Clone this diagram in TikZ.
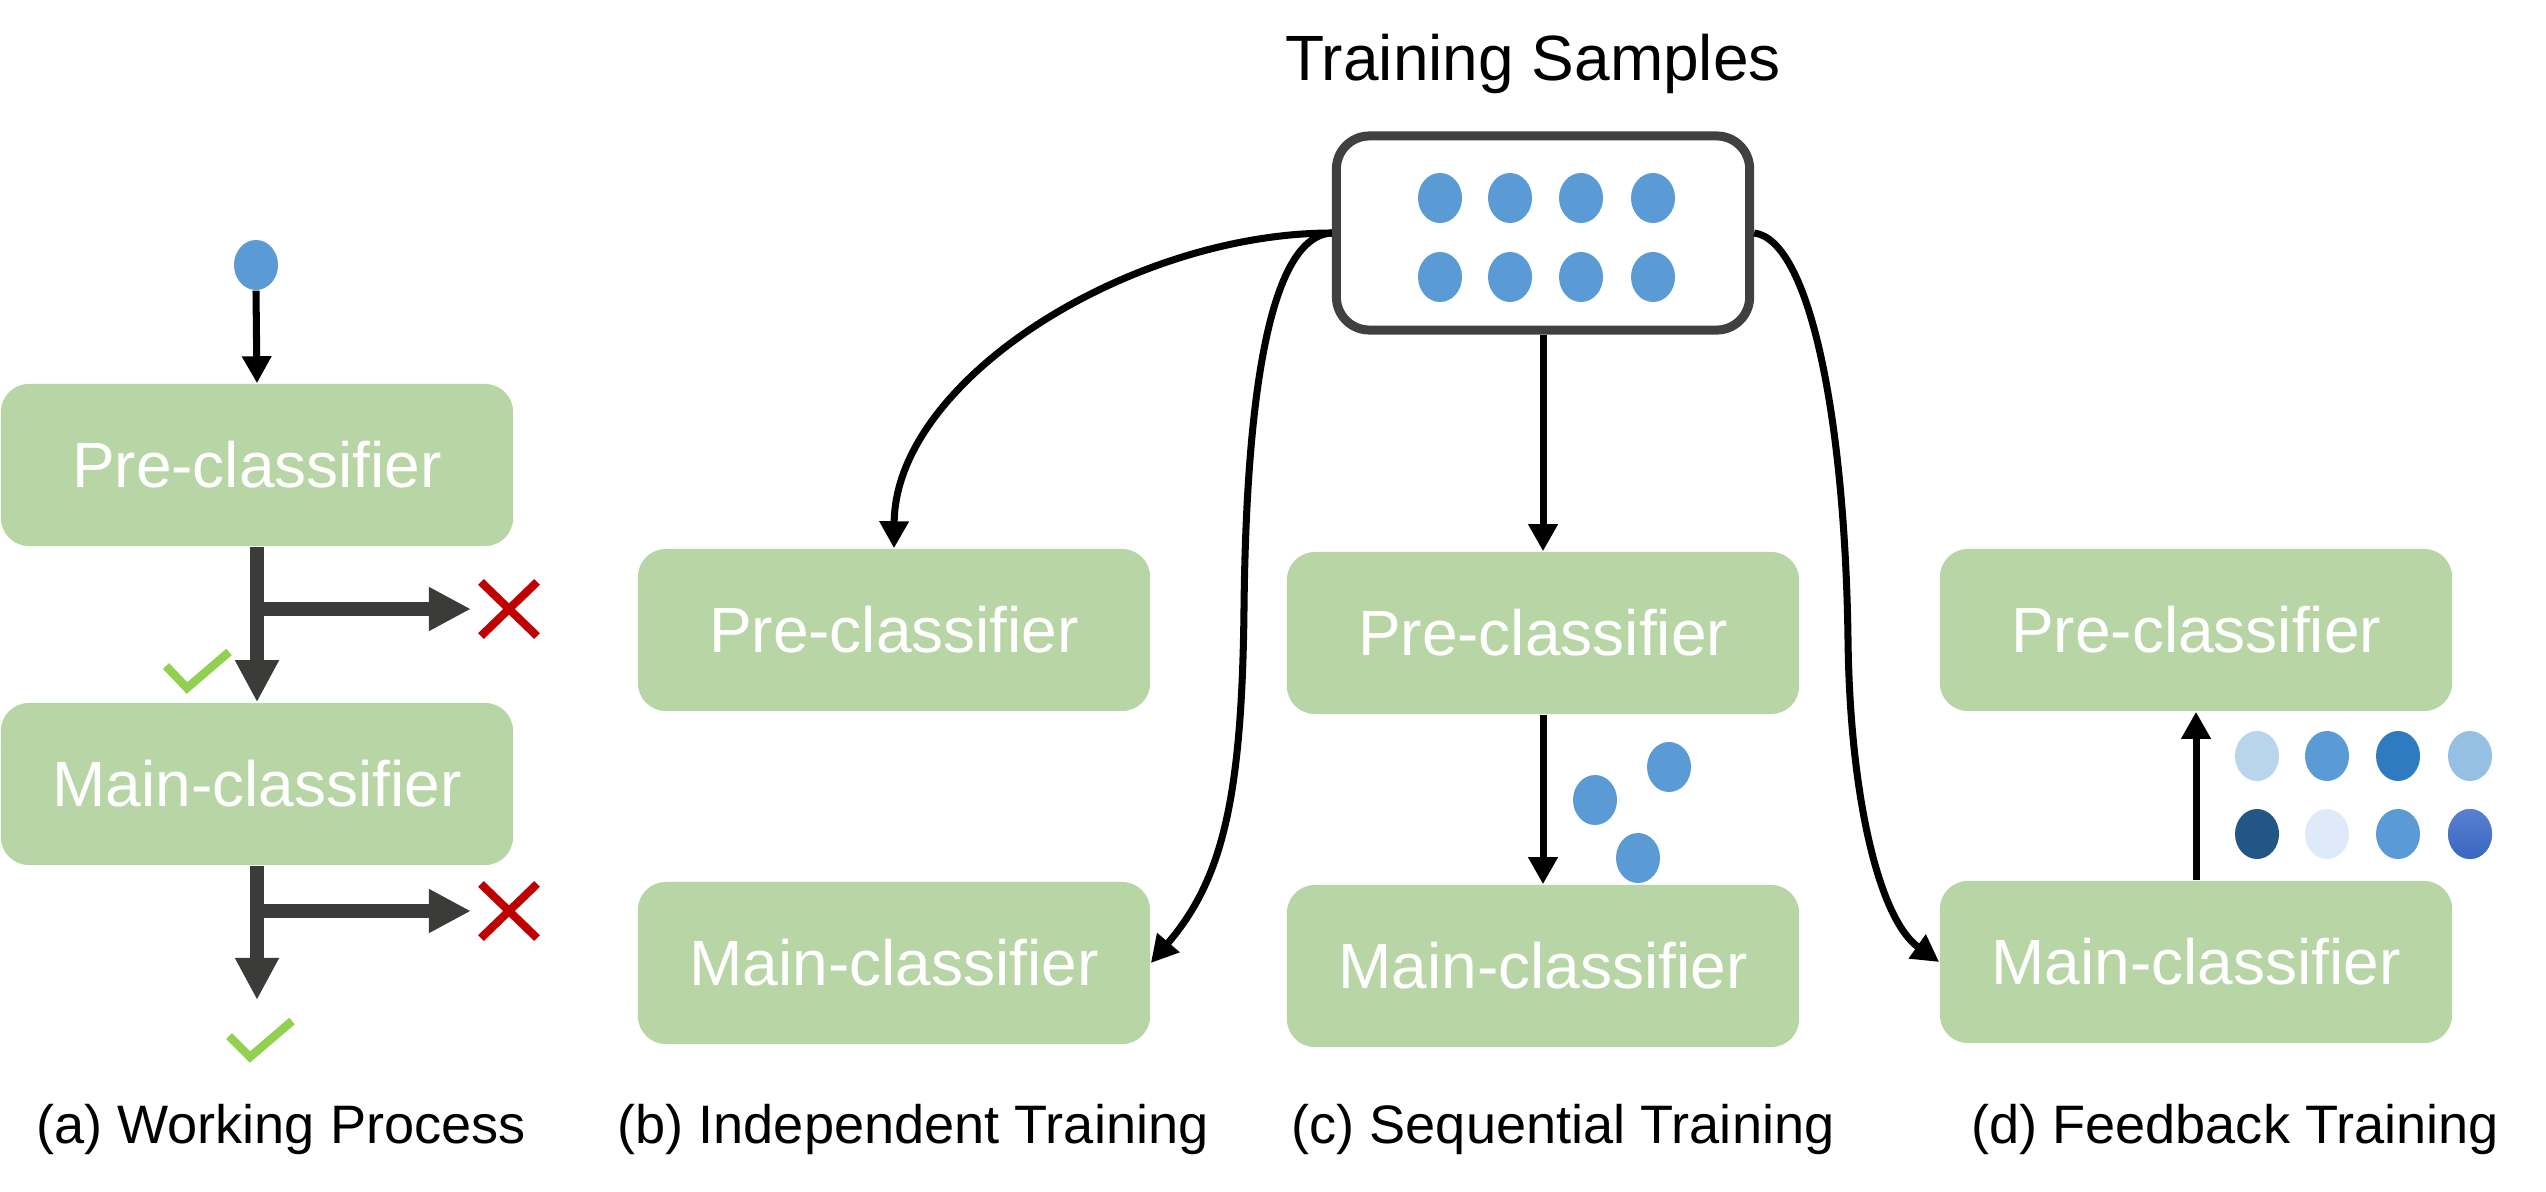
\documentclass[tikz,border=0pt]{standalone}
\usepackage{fontspec}
\setmainfont{Liberation Sans}
\usetikzlibrary{arrows.meta,shapes.geometric,shapes.misc}
\definecolor{boxgreen}{HTML}{B8D6A5}
\definecolor{dotblue}{HTML}{5B9BD5}
\definecolor{framegray}{HTML}{404040}
\definecolor{flowgray}{HTML}{3B3B39}
\definecolor{rejectred}{HTML}{C00000}
\definecolor{acceptgreen}{HTML}{92D050}
\definecolor{fbA}{HTML}{B9D5EE}
\definecolor{fbB}{HTML}{2E7BC0}
\definecolor{fbC}{HTML}{96BFE4}
\definecolor{fbD}{HTML}{225684}
\definecolor{fbE}{HTML}{DEEAF7}
\definecolor{fbF}{HTML}{5A80D0}
\definecolor{fbG}{HTML}{3966C1}

\begin{document}
\begin{tikzpicture}[x=0.01cm, y=-0.01cm, clf/.style={fill=boxgreen, rounded corners=0.28cm, minimum width=5.12cm, minimum height=1.62cm, text=white, font=\fontsize{18.2}{22}\selectfont}, sample/.style={ellipse, fill=dotblue, minimum width=0.44cm, minimum height=0.5cm, inner sep=0pt}, link/.style={-{Triangle[length=0.27cm,width=0.28cm]}, line width=2pt}, pass/.style={-{Triangle[length=0.42cm,width=0.41cm]}, line width=4pt, draw=flowgray}, reject/.style={cross out, draw=rejectred, line width=2.3pt, minimum width=0.48cm, minimum height=0.46cm, inner sep=0pt}, okmark/.style={draw=acceptgreen, line width=2.4pt}, sublabel/.style={anchor=base, font=\fontsize{15.4}{19}\selectfont}]
\useasboundingbox (0,0) rectangle (2546,1191);

% (a) working process
\node[sample] (a-in) at (256,265) {};
\node[clf] (a-pre) at (257,465) {Pre-classifier};
\node[clf] (a-main) at (257,784) {Main-classifier};
\draw[link] (a-in.south) -- (a-pre.north);
\draw[pass] (a-pre.south) -- (a-main.north);
\coordinate (a-fork1) at (257,609);
\node[reject] (a-x1) at (509,609) {};
\draw[pass] (a-fork1) -- ([xshift=-0.1cm]a-x1.west);
\draw[okmark] (166,666) -- (187,688) -- (229,652);
\coordinate (a-end) at (257,1000);
\draw[pass] (a-main.south) -- (a-end);
\coordinate (a-fork2) at (257,911);
\node[reject] (a-x2) at (509,911) {};
\draw[pass] (a-fork2) -- ([xshift=-0.1cm]a-x2.west);
\draw[okmark] (229,1036) -- (250,1057) -- (292,1021);
\node[sublabel] (cap-a) at (281,1143) {(a) Working Process};

% training samples
\node[anchor=base, font=\fontsize{18.2}{22}\selectfont] (title) at (1533,81) {Training Samples};
\node[draw=framegray, line width=2.56pt, rounded corners=0.33cm, minimum width=4.13cm, minimum height=1.94cm] (samples) at (1543,233) {};
\foreach \x [count=\i] in {1440,1510,1581,1653} {
  \node[sample] (s-\i-1) at (\x,198) {};
  \node[sample] (s-\i-2) at (\x,277) {};
}

% (b) independent
\node[clf] (b-pre) at (894,630) {Pre-classifier};
\node[clf] (b-main) at (894,963) {Main-classifier};
\draw[link] (samples.west) .. controls (1130,233) and (895,380) .. (b-pre.north);
\draw[link] (samples.west) .. controls (1265,236) and (1246,420) .. (1244,608) .. controls (1242,800) and (1222,880) .. (b-main.east);
\node[sublabel] (cap-b) at (913,1143) {(b) Independent Training};

% (c) sequential
\node[clf] (c-pre) at (1543,633) {Pre-classifier};
\node[clf] (c-main) at (1543,966) {Main-classifier};
\draw[link] (samples.south) -- (c-pre.north);
\draw[link] (c-pre.south) -- (c-main.north);
\node[sample] (c-s1) at (1595,800) {};
\node[sample] (c-s2) at (1669,767) {};
\node[sample] (c-s3) at (1638,858) {};
\node[sublabel] (cap-c) at (1563,1143) {(c) Sequential Training};

% (d) feedback
\node[clf] (d-pre) at (2196,630) {Pre-classifier};
\node[clf] (d-main) at (2196,962) {Main-classifier};
\draw[link] (samples.east) .. controls (1810,240) and (1845,420) .. (1848,640) .. controls (1850,800) and (1880,920) .. (d-main.west);
\draw[link] (d-main.north) -- (d-pre.south);
\node[sample, fill=fbA] (d-s1) at (2257,756) {};
\node[sample] (d-s2) at (2327,756) {};
\node[sample, fill=fbB] (d-s3) at (2398,756) {};
\node[sample, fill=fbC] (d-s4) at (2470,756) {};
\node[sample, fill=fbD] (d-s5) at (2257,834) {};
\node[sample, fill=fbE] (d-s6) at (2327,834) {};
\node[sample] (d-s7) at (2398,834) {};
\node[sample, top color=fbF, bottom color=fbG] (d-s8) at (2470,834) {};
\node[sublabel] (cap-d) at (2235,1143) {(d) Feedback Training};
\end{tikzpicture}
\end{document}
